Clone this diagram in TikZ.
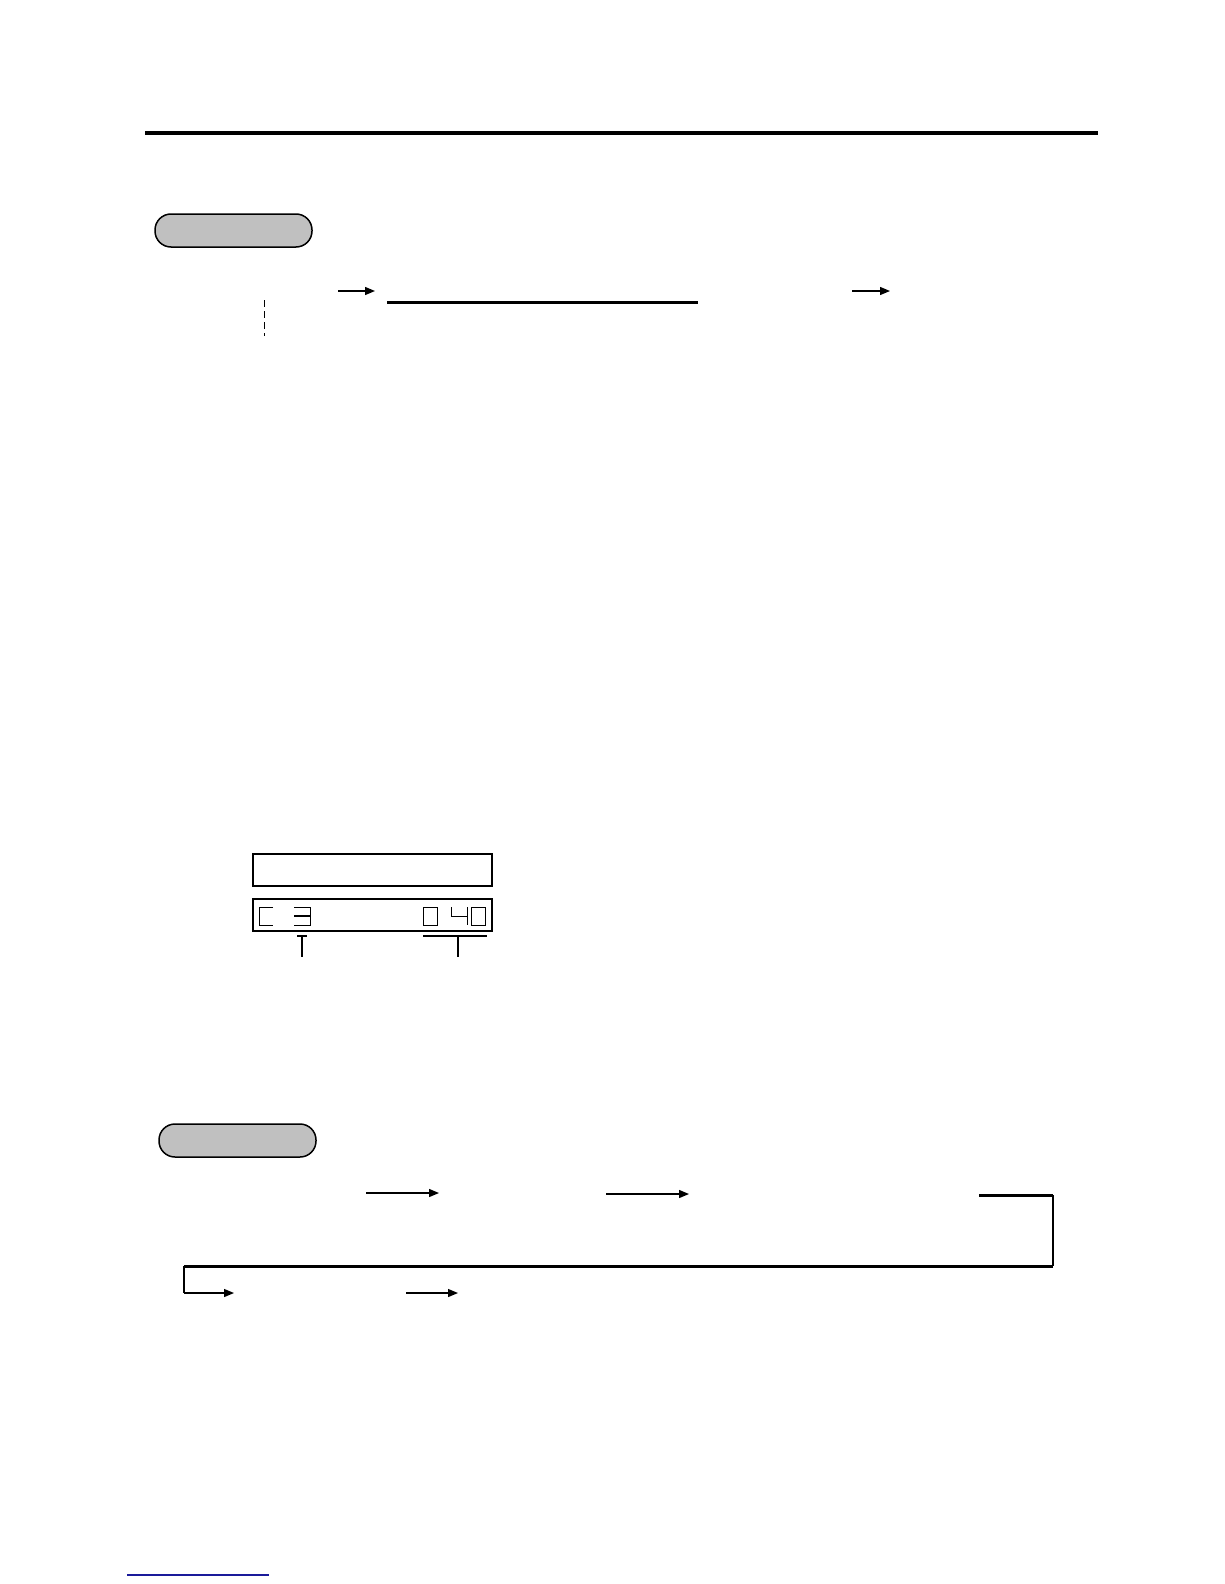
\documentclass[tikz,border=0pt]{standalone}
\usetikzlibrary{arrows.meta}
\definecolor{pillgray}{HTML}{C0C0C0}
\definecolor{linkblue}{HTML}{1A1A9A}
\begin{document}
\begin{tikzpicture}[x=1pt,y=-1pt,
  pill/.style={draw=black,line width=1.5pt,fill=pillgray,rounded corners=16pt,
    minimum width=157pt,minimum height=33pt,inner sep=0pt,outer sep=0pt,anchor=north west},
  flow/.style={line width=1.3pt,-{Triangle[length=10pt,width=8pt]}},
  heavy/.style={line width=3pt},
  seg/.style={line width=0.8pt},
  lcd/.style={draw=black,inner sep=0pt,outer sep=0pt,minimum width=239pt,minimum height=32pt,anchor=north west}]
\useasboundingbox (0,0) rectangle (1224,1584);
\fill[white] (0,0) rectangle (1224,1584);

% top rule
\coordinate (ruleL) at (145,133);
\coordinate (ruleR) at (1098,133);
\draw[line width=4pt] (ruleL) -- (ruleR);

% section 1
\node[pill] (pillA) at (155,214) {};
\coordinate (a1s) at (338,291);
\coordinate (a1e) at (375,291);
\draw[flow] (a1s) -- (a1e);
\coordinate (ulL) at (387,302);
\coordinate (ulR) at (698,302);
\draw[heavy] (ulL) -- (ulR);
\coordinate (a2s) at (852,291);
\coordinate (a2e) at (890,291);
\draw[flow] (a2s) -- (a2e);
\coordinate (dsT) at (264,300);
\coordinate (dsB) at (264,336);
\draw[line width=1pt,dash pattern=on 7pt off 4pt] (dsT) -- (dsB);

% display
\node[lcd,line width=2.5pt] (lcdA) at (253,854) {};
\node[lcd,line width=1.3pt] (lcdB) at (253,899) {};
% C
\draw[seg] (273,907) -- (259,907) -- (259,925) -- (273,925);
% 3
\draw[seg] (294,907) -- (310,907) -- (310,925) -- (294,925);
\draw[line width=1.8pt] (294,916) -- (310,916);
% 0
\draw[seg] (423,907) rectangle (437,925);
% 4
\draw[seg] (451,907) -- (451,916) -- (467,916);
\draw[seg] (467,907) -- (467,925);
% 0
\draw[seg] (471,907) rectangle (485,925);
% indicator ticks
\coordinate (tLa) at (297,936);
\coordinate (tLb) at (307,936);
\coordinate (tLt) at (302,936);
\coordinate (tLd) at (302,957);
\draw[line width=1.5pt] (tLa) -- (tLb);
\draw[line width=2pt] (tLt) -- (tLd);
\coordinate (tRa) at (423,936);
\coordinate (tRb) at (487,936);
\coordinate (tRt) at (458,936);
\coordinate (tRd) at (458,957);
\draw[line width=1.5pt] (tRa) -- (tRb);
\draw[line width=2pt] (tRt) -- (tRd);

% section 2
\node[pill] (pillB) at (159,1124) {};
\coordinate (b1s) at (366,1193);
\coordinate (b1e) at (439,1193);
\draw[flow] (b1s) -- (b1e);
\coordinate (b2s) at (606,1194);
\coordinate (b2e) at (689,1194);
\draw[flow] (b2s) -- (b2e);
\coordinate (brA) at (979,1195);
\coordinate (brB) at (1053,1195);
\coordinate (brC) at (1053,1266);
\coordinate (brD) at (184,1266);
\coordinate (brE) at (184,1293);
\coordinate (brF) at (234,1293);
\draw[heavy] (brA) -- (brB);
\draw[line width=2pt] (brB) -- (brC);
\draw[heavy] (brC) -- (brD);
\draw[line width=1.5pt] (brD) -- (brE);
\draw[flow] (brE) -- (brF);
\coordinate (b3s) at (406,1293);
\coordinate (b3e) at (458,1293);
\draw[flow] (b3s) -- (b3e);

% footer link underline
\coordinate (lnL) at (127,1575);
\coordinate (lnR) at (269,1575);
\draw[linkblue,line width=1.5pt] (lnL) -- (lnR);
\end{tikzpicture}
\end{document}
